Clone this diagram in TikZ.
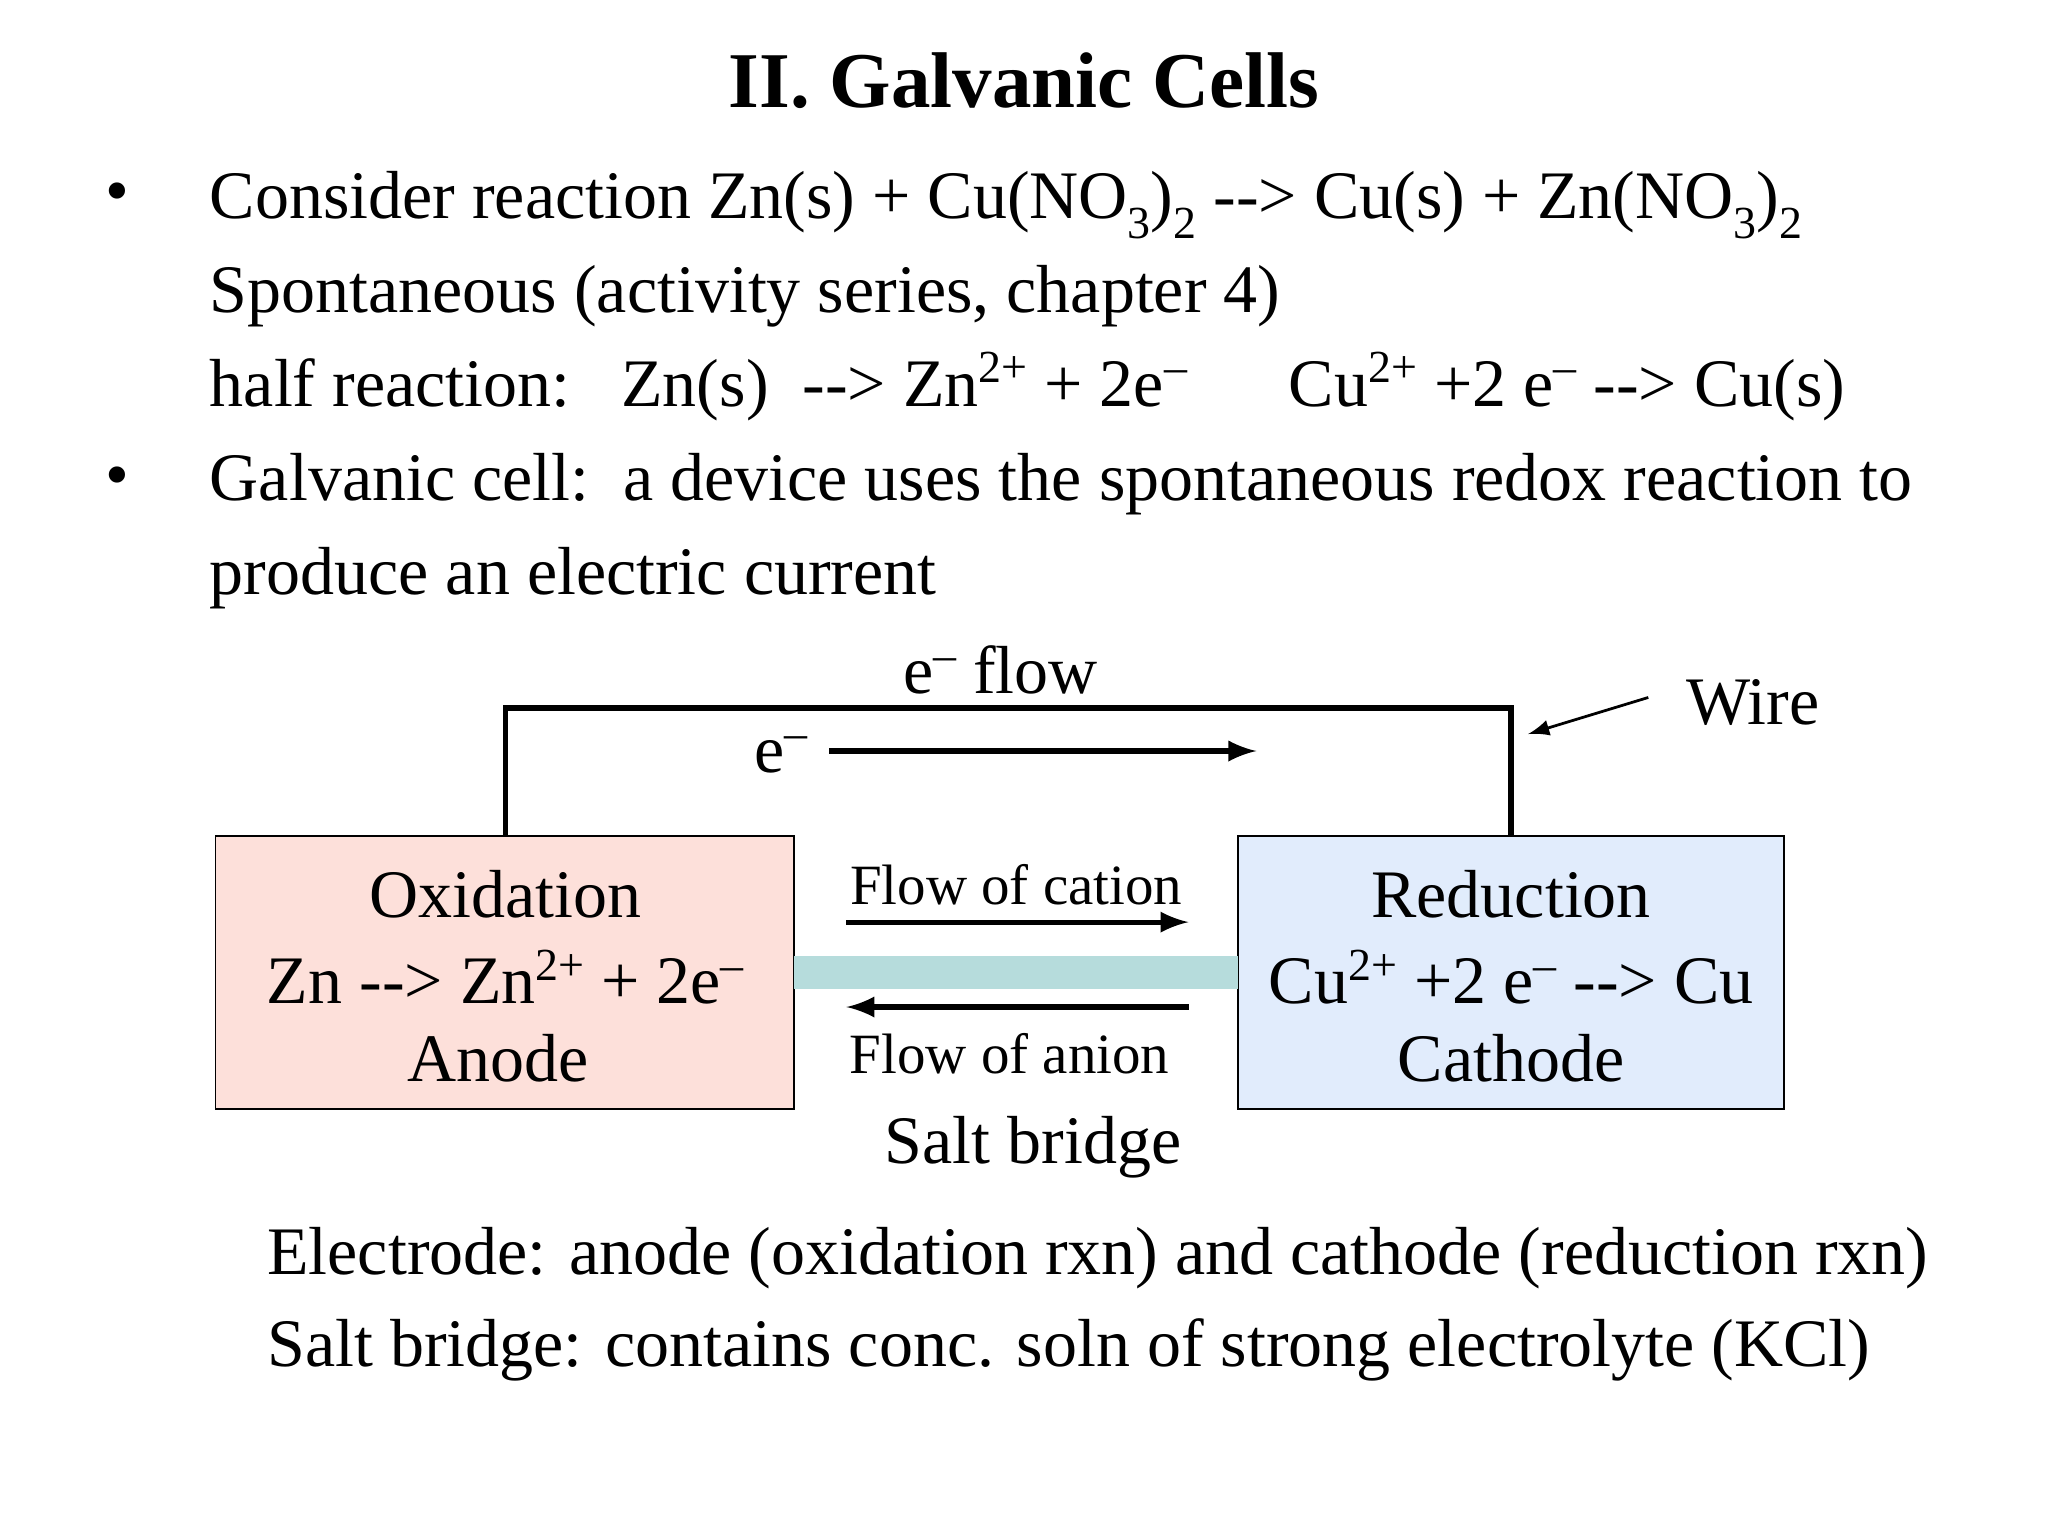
\documentclass[tikz,border=0pt]{standalone}
\usepackage{fontspec}
\setmainfont{Liberation Serif}
\newcommand{\dd}{{-}{-}>}
\newcommand{\sub}[1]{\raisebox{-0.65ex}{\fontsize{10pt}{10pt}\selectfont #1}}
\newcommand{\sups}[1]{\raisebox{0.75ex}{\fontsize{10pt}{10pt}\selectfont #1}}
\begin{document}
\begin{tikzpicture}[x=0.01cm,y=-0.01cm,
  body/.style={font=\fontsize{14.8pt}{18pt}\selectfont,inner sep=0pt},
  small/.style={font=\fontsize{12.4pt}{15pt}\selectfont,inner sep=0pt},
  wire/.style={line width=1.2pt},
  arr/.style={line width=1.1pt,-latex}]
\useasboundingbox (0,0) rectangle (1568,1176);
\node[font=\fontsize{17.2pt}{20pt}\selectfont\bfseries,inner sep=0pt] (title) at (784,62) {II. Galvanic Cells};
\node[body] (b1) at (90,152) {•};
\node[body] (b2) at (90,369) {•};
\node[body,anchor=base west] (l1) at (160,167) {Consider reaction Zn(s) + Cu(NO\sub{3})\sub{2} \dd{} Cu(s) + Zn(NO\sub{3})\sub{2}};
\node[body,anchor=base west] (l2) at (160,239) {Spontaneous (activity series, chapter 4)};
\node[body,anchor=base west] (l3) at (160,311) {half reaction:\ \ \ Zn(s)\ \ \dd{} Zn\sups{2+} + 2e\sups{--}\ \ \ \ \ \ Cu\sups{2+} +2 e\sups{--} \dd{} Cu(s)};
\node[body,anchor=base west] (l4) at (160,383) {Galvanic cell:\ \ a device uses the spontaneous redox reaction to};
\node[body,anchor=base west] (l5) at (160,455) {produce an electric current};
\draw[fill={rgb,255:red,253;green,224;blue,218}] (165,640) rectangle (608,849);
\draw[fill={rgb,255:red,225;green,236;blue,252}] (948,640) rectangle (1366,849);
\draw[fill={rgb,255:red,182;green,220;blue,220},draw=none] (608,732) rectangle (948,757);
\coordinate (wa) at (387,640);
\coordinate (wc) at (1157,640);
\draw[wire] (wa) |- (772,542) -| (wc);
\node[body] (ox) at (387,685) {Oxidation};
\node[body] (oxr) at (387,748) {Zn \dd{} Zn\sups{2+} + 2e\sups{--}};
\node[body] (an) at (381,810) {Anode};
\node[body] (red) at (1157,685) {Reduction};
\node[body] (redr) at (1157,748) {Cu\sups{2+} +2 e\sups{--} \dd{} Cu};
\node[body] (cat) at (1157,810) {Cathode};
\node[body] (ef) at (766,513) {e\sups{--}\ flow};
\node[body] (wl) at (1342,538) {Wire};
\node[body] (e1) at (598,578) {e\sups{--}};
\coordinate (ea) at (635,575); \coordinate (eb) at (962,575);
\draw[arr] (ea) -- (eb);
\coordinate (wp1) at (1262,534); \coordinate (wp2) at (1170,562);
\draw[-latex,line width=0.6pt] (wp1) -- (wp2);
\node[small] (fc) at (778,677) {Flow of cation};
\node[small] (fa) at (773,807) {Flow of anion};
\coordinate (c1) at (648,706); \coordinate (c2) at (910,706);
\draw[arr] (c1) -- (c2);
\coordinate (a1) at (910,771); \coordinate (a2) at (648,771);
\draw[arr] (a1) -- (a2);
\node[body] (sb) at (791,878) {Salt bridge};
\node[body,anchor=base west] (l6) at (204,976) {Electrode: anode (oxidation rxn) and cathode (reduction rxn)};
\node[body,anchor=base west] (l7) at (204,1046) {Salt bridge: contains conc. soln of strong electrolyte (KCl)};
\end{tikzpicture}
\end{document}
